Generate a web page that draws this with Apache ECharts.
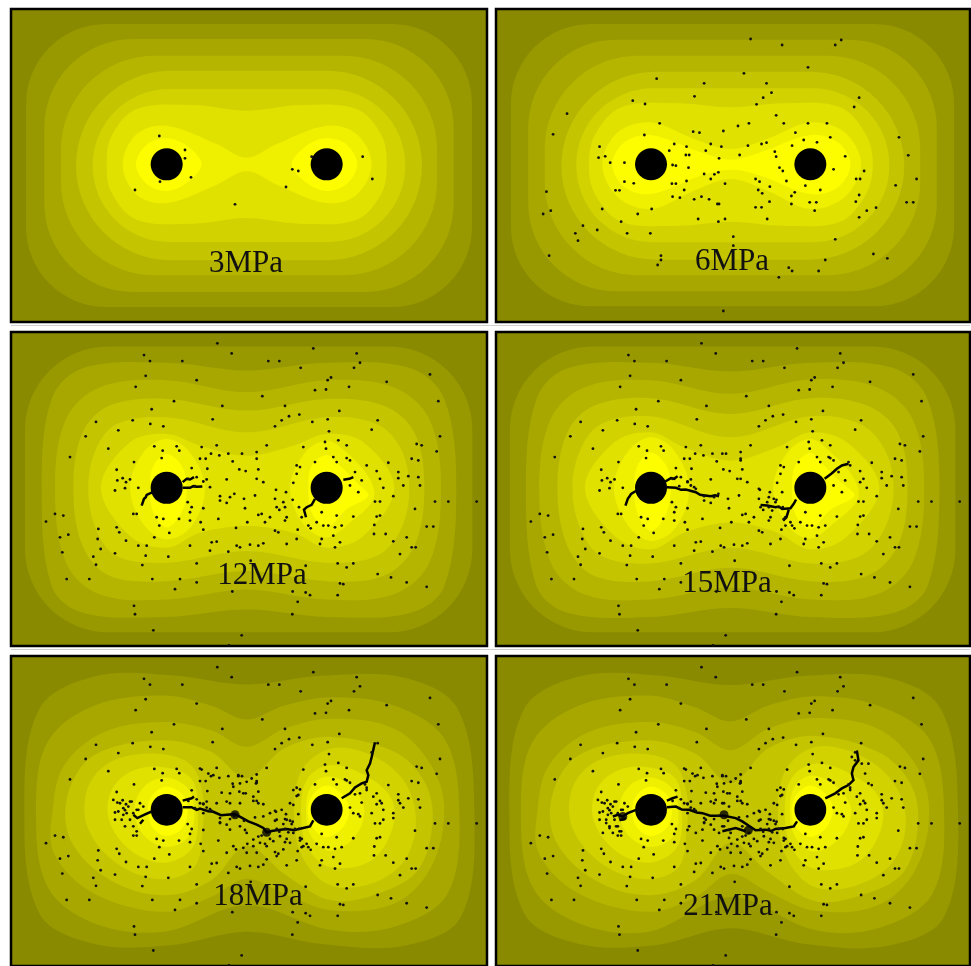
<!DOCTYPE html>
<html>
<head>
<meta charset="utf-8">
<script src="https://cdn.jsdelivr.net/npm/echarts@6/dist/echarts.min.js"></script>
<style>html,body{margin:0;padding:0;background:#fff}#c{width:971px;height:966px}</style>
</head>
<body>
<div id="c"></div>
<script>
// ---------- DATA (model units: specimen 0..1428 wide, 0..939 high, y downwards) ----------
const stageLabels = ['3MPa', '6MPa', '12MPa', '15MPa', '18MPa', '21MPa'];
const holeCenters = [[467, 466], [947, 466]];
const holeRadius = 48;

// Contour levels (outer -> inner). rect: [x0,y0,x1,y1,cornerRadius]; otherwise list of closed polygons.
const contours3 = [
  {rect: [45, 45, 1383, 894, 240]},
  {rect: [100, 90, 1328, 849, 265]},
  {rect: [150, 140, 1278, 799, 280]},
  {rect: [195, 185, 1233, 754, 285]},
  {rect: [245, 240, 1183, 699, 229]},
  [[[707,305],[867,288],[1037,300],[1112,380],[1127,466],[1112,552],[1037,632],[867,644],[707,627],[547,644],[377,632],[302,552],[287,466],[302,380],[377,300],[547,288]]],
  [[[707,446],[797,405],[947,350],[1037,375],[1082,466],[1037,557],[947,582],[797,527],[707,486],[617,527],[467,582],[377,557],[335,466],[377,375],[467,350],[617,405]]],
  [[[467,388],[527,410],[572,466],[527,522],[467,546],[407,525],[375,466],[407,407]],
   [[947,388],[1007,407],[1039,466],[1007,525],[947,546],[887,522],[842,466],[887,410]]]
];
const contours6 = [
  {rect: [45, 45, 1380, 892, 240]},
  {rect: [97, 92, 1328, 847, 265]},
  {rect: [147, 140, 1278, 799, 280]},
  {rect: [197, 188, 1230, 752, 285]},
  {rect: [242, 238, 1185, 700, 230]},
  [[[707,295],[867,283],[1037,295],[1115,378],[1135,466],[1115,555],[1037,638],[867,650],[707,638],[547,650],[377,638],[298,555],[280,466],[298,378],[377,295],[547,283]]],
  [[[707,420],[817,390],[947,340],[1050,370],[1100,466],[1050,565],[947,600],[817,545],[707,510],[597,545],[467,600],[367,565],[320,466],[367,370],[467,340],[597,390]]],
  [[[707,452],[797,430],[947,378],[1030,400],[1068,466],[1030,535],[947,555],[797,500],[707,482],[617,500],[467,555],[387,535],[350,466],[387,400],[467,378],[617,430]]]
];
const contours12 = [
  {rect: [42, 43, 1384, 898, 250]},
  [[[707,115],[947,92],[1197,108],[1300,200],[1336,466],[1300,760],[1197,840],[947,852],[707,830],[467,852],[217,840],[122,760],[92,466],[122,200],[217,108],[467,92]]],
  [[[707,180],[947,144],[1147,165],[1255,260],[1290,466],[1255,690],[1147,785],[947,800],[707,770],[467,800],[267,785],[165,690],[132,466],[165,260],[267,165],[467,144]]],
  [[[707,235],[947,200],[1117,220],[1210,300],[1240,466],[1210,640],[1117,730],[947,745],[707,715],[467,745],[297,730],[215,640],[187,466],[215,300],[297,220],[467,200]]],
  [[[707,300],[947,255],[1097,275],[1170,350],[1195,466],[1170,590],[1097,670],[947,690],[707,655],[467,690],[317,670],[255,590],[232,466],[255,350],[317,275],[467,255]]],
  [[[707,370],[847,340],[947,305],[1057,330],[1150,466],[1057,610],[947,645],[847,600],[707,580],[567,600],[467,645],[357,610],[270,466],[357,330],[467,305],[567,340]]],
  [[[467,320],[537,360],[582,466],[542,580],[467,620],[397,575],[357,466],[397,360]],
   [[947,325],[1007,360],[1077,440],[1087,500],[1017,570],[947,615],[877,575],[837,466],[882,360]]],
  [[[467,365],[512,400],[527,466],[512,540],[467,585],[427,540],[417,466],[427,400]],
   [[947,368],[987,400],[1037,450],[1072,490],[1007,530],[947,585],[902,540],[892,466],[902,400]]]
];
const contours15 = [
  {rect: [42, 43, 1384, 898, 250]},
  [[[707,118],[947,92],[1197,108],[1300,200],[1336,466],[1300,760],[1197,840],[947,852],[707,825],[467,852],[217,840],[122,760],[90,466],[122,200],[217,108],[467,92]]],
  [[[707,185],[947,142],[1147,165],[1255,260],[1290,466],[1255,690],[1147,785],[947,800],[707,765],[467,800],[267,785],[165,690],[130,466],[165,260],[267,165],[467,144]]],
  [[[707,245],[947,198],[1117,220],[1210,300],[1240,466],[1210,640],[1117,730],[947,745],[707,705],[467,745],[297,730],[215,640],[185,466],[215,300],[297,220],[467,198]]],
  [[[707,315],[947,252],[1097,275],[1170,350],[1198,466],[1170,590],[1097,670],[947,692],[707,645],[467,692],[317,670],[255,590],[230,466],[255,350],[317,275],[467,252]]],
  [[[707,385],[847,345],[947,300],[1057,330],[1155,466],[1057,612],[947,650],[847,600],[707,570],[567,600],[467,650],[357,610],[268,466],[357,330],[467,300],[567,345]]],
  [[[467,315],[537,355],[582,466],[542,585],[467,625],[397,578],[355,466],[397,358]],
   [[947,320],[1007,358],[1080,440],[1090,500],[1017,572],[947,618],[877,578],[835,466],[880,358]]],
  [[[467,360],[512,398],[527,466],[512,545],[467,595],[427,545],[417,466],[427,398]],
   [[947,362],[987,398],[1040,450],[1080,490],[1007,532],[947,590],[902,545],[892,466],[902,398]]]
];
const contours18 = [
  [[[250,62],[480,58],[707,86],[930,60],[1180,66],[1340,160],[1390,466],[1350,790],[1180,878],[930,872],[707,835],[480,876],[250,872],[85,780],[40,466],[85,160]]],
  [[[250,150],[460,120],[600,150],[707,192],[820,150],[960,125],[1150,150],[1300,250],[1345,466],[1310,720],[1150,820],[960,830],[707,755],[460,835],[250,810],[110,700],[75,466],[110,260]]],
  [[[460,200],[600,225],[707,275],[820,220],[960,190],[1150,220],[1260,330],[1300,466],[1260,640],[1150,750],[960,770],[820,720],[707,675],[600,730],[460,775],[250,720],[130,600],[125,466],[160,330],[280,230]]],
  [[[450,255],[600,290],[707,370],[820,280],[960,245],[1150,290],[1240,380],[1265,500],[1220,650],[1100,720],[960,740],[820,660],[707,575],[600,680],[460,725],[300,680],[180,560],[170,420],[250,300]]],
  [[[440,296],[540,330],[575,420],[575,520],[550,640],[450,676],[320,630],[230,520],[230,400],[300,320]],
   [[960,280],[1080,300],[1180,380],[1215,500],[1180,620],[1080,690],[960,695],[880,620],[850,500],[870,350]]],
  [[[450,336],[540,370],[560,466],[545,580],[460,626],[360,590],[295,500],[300,410],[360,350]],
   [[960,330],[1060,360],[1140,430],[1145,520],[1080,620],[960,640],[890,580],[870,466],[890,370]]],
  [[[465,368],[530,400],[550,466],[535,545],[470,578],[400,545],[370,466],[400,395]],
   [[950,365],[1020,395],[1060,466],[1030,550],[955,590],[900,545],[885,466],[900,395]]],
  [[[467,395],[515,420],[530,466],[515,520],[467,545],[425,520],[410,466],[425,420]],
   [[947,392],[995,420],[1015,466],[995,520],[947,548],[905,520],[890,466],[905,420]]]
];
const contours21 = [
  [[[250,62],[480,58],[707,88],[930,60],[1180,66],[1340,160],[1392,466],[1350,790],[1180,878],[930,872],[707,825],[480,876],[250,872],[85,780],[40,466],[85,160]]],
  [[[250,150],[460,120],[600,155],[707,198],[820,150],[960,122],[1150,150],[1305,250],[1350,466],[1315,720],[1150,825],[960,830],[707,730],[460,835],[250,810],[110,700],[75,466],[110,260]]],
  [[[460,200],[600,230],[707,285],[820,220],[960,188],[1150,220],[1265,330],[1305,466],[1265,645],[1150,755],[960,772],[820,715],[707,660],[600,730],[460,775],[250,720],[130,600],[125,466],[160,330],[280,230]]],
  [[[450,255],[600,295],[707,385],[820,280],[960,242],[1150,290],[1245,380],[1272,500],[1228,655],[1100,725],[960,742],[820,655],[707,565],[600,680],[460,725],[300,680],[180,560],[170,420],[250,300]]],
  [[[440,296],[540,330],[575,420],[575,520],[550,640],[450,676],[320,630],[230,520],[230,400],[300,320]],
   [[960,276],[1090,298],[1195,380],[1235,500],[1195,625],[1085,695],[960,700],[880,620],[850,500],[870,350]]],
  [[[450,336],[540,370],[560,466],[545,580],[460,626],[360,590],[295,500],[300,410],[360,350]],
   [[960,326],[1070,358],[1155,430],[1160,525],[1090,625],[960,645],[890,580],[870,466],[890,370]]],
  [[[465,368],[530,400],[550,466],[535,545],[470,578],[400,545],[370,466],[400,395]],
   [[950,362],[1025,395],[1070,466],[1035,552],[955,592],[900,545],[885,466],[900,395]]],
  [[[467,395],[515,420],[530,466],[515,520],[467,545],[425,520],[410,466],[425,420]],
   [[947,392],[995,420],[1015,466],[995,520],[947,548],[905,520],[890,466],[905,420]]]
];

// Micro-crack positions
const microcracks3 = [[445,381],[522,423],[522,448],[447,518],[540,505],[372,543],[672,586],[844,481],[862,486],[825,534],[1055,443],[1084,510],[902,443]];
const microcracks6 = [[767,90],[862,108],[1022,108],[1040,93],[940,175],[747,193],[484,209],[627,223],[815,223],[830,251],[598,262],[805,266],[785,286],[1094,266],[1079,294],[412,275],[449,285],[214,314],[844,319],[493,343],[762,343],[729,351],[867,343],[940,343],[997,343],[172,376],[447,378],[594,368],[613,371],[685,366],[902,371],[1214,385],[312,413],[537,405],[574,413],[647,405],[679,413],[759,410],[800,405],[815,401],[892,410],[927,393],[967,400],[1007,385],[309,446],[329,442],[344,461],[387,461],[522,425],[572,438],[582,438],[632,425],[672,448],[734,438],[840,428],[844,443],[1052,442],[1242,439],[532,468],[542,470],[580,476],[627,495],[658,496],[670,490],[647,510],[854,476],[864,486],[1017,481],[1109,486],[1085,510],[1097,510],[1267,510],[387,518],[415,523],[530,524],[542,524],[574,516],[690,524],[782,510],[794,518],[825,533],[875,516],[932,530],[977,543],[1204,529],[152,548],[360,544],[372,544],[567,543],[790,543],[802,553],[532,563],[554,566],[597,571],[619,563],[642,571],[667,585],[672,585],[824,578],[890,561],[900,550],[945,580],[965,580],[1094,558],[1084,578],[1237,580],[1257,580],[142,615],[165,605],[320,600],[427,615],[469,600],[782,595],[800,595],[890,585],[960,605],[1117,605],[1145,596],[1094,625],[377,638],[609,630],[670,638],[690,630],[817,630],[262,650],[239,673],[247,695],[305,663],[395,673],[465,673],[715,683],[715,710],[1022,691],[160,740],[497,740],[487,768],[497,753],[1137,735],[1179,748],[992,753],[882,776],[892,786],[972,786],[852,805],[685,906]];
const microcracks12 = [[619,34],[662,64],[907,49],[1037,64],[399,69],[417,87],[514,87],[772,87],[805,87],[1047,92],[1029,107],[869,107],[1257,127],[404,131],[557,144],[960,136],[950,144],[1127,149],[374,164],[912,174],[945,172],[1014,164],[754,192],[489,207],[634,221],[822,221],[1282,207],[422,231],[865,247],[834,252],[985,236],[605,261],[1100,264],[255,269],[365,264],[418,275],[457,282],[812,264],[792,282],[904,269],[950,261],[322,294],[954,297],[1082,292],[224,312],[1287,312],[1217,335],[1232,339],[497,342],[430,342],[572,344],[617,339],[767,339],[877,344],[942,329],[982,324],[1007,339],[292,349],[455,355],[505,355],[600,364],[625,369],[652,364],[693,364],[737,359],[945,349],[1277,357],[177,374],[369,389],[452,377],[567,379],[584,379],[665,387],[737,379],[967,374],[1007,377],[1017,384],[1132,391],[1067,399],[1202,379],[1222,384],[317,412],[542,407],[589,409],[685,411],[704,416],[742,411],[857,399],[867,404],[912,389],[977,389],[1097,416],[1162,419],[1192,431],[1222,434],[335,437],[357,441],[319,444],[345,449],[532,439],[557,434],[587,441],[577,447],[647,441],[737,439],[857,424],[1032,419],[1052,444],[1107,439],[1162,437],[312,474],[342,467],[382,466],[552,461],[597,464],[627,491],[657,494],[670,484],[757,449],[795,472],[825,479],[847,451],[1017,459],[1042,479],[1117,466],[1177,459],[1227,459],[1147,491],[1272,507],[1312,507],[1397,507],[530,509],[627,504],[647,511],[699,499],[732,489],[792,499],[817,509],[845,502],[967,489],[1092,507],[1107,507],[377,544],[367,544],[542,524],[537,539],[577,527],[702,527],[752,544],[797,524],[805,532],[822,524],[864,524],[1212,529],[132,544],[157,549],[437,554],[457,559],[504,559],[537,564],[622,559],[742,547],[777,554],[827,554],[872,554],[932,539],[977,549],[1027,552],[1097,552],[1107,549],[105,567],[445,579],[569,569],[709,569],[762,569],[822,564],[892,579],[917,569],[952,579],[972,584],[1090,577],[1247,582],[1267,582],[262,589],[317,584],[325,599],[147,614],[172,606],[430,614],[475,601],[577,591],[675,586],[792,594],[802,599],[860,591],[899,587],[937,579],[967,609],[992,579],[1089,604],[1124,604],[1187,614],[260,619],[345,624],[407,639],[382,639],[537,639],[602,629],[617,627],[677,639],[717,636],[742,639],[757,632],[827,634],[857,619],[932,619],[987,629],[927,634],[1147,626],[1214,644],[154,659],[247,672],[269,649],[312,662],[404,669],[472,672],[597,654],[652,657],[687,644],[972,644],[1167,664],[1202,644],[1027,692],[1007,704],[980,692],[255,696],[394,697],[557,692],[719,684],[884,699],[167,739],[235,739],[424,739],[507,739],[492,769],[557,749],[664,776],[845,776],[884,779],[897,787],[987,752],[997,754],[1100,724],[1140,734],[1187,749],[1247,762],[860,807],[980,787],[369,819],[372,844],[844,844],[427,892],[692,907],[654,937]];
const microcracksAdded15 = [[577,449],[587,459],[602,469],[682,364],[737,384],[727,439],[792,469],[822,494],[837,499],[862,479],[852,524],[832,534],[867,559],[872,579],[887,569],[842,509],[1002,374],[1062,389],[1097,449]];
const microcracksAdded18 = [[567,341],[592,356],[607,361],[632,414],[657,416],[667,396],[682,361],[687,386],[697,416],[707,381],[722,371],[735,386],[727,426],[742,446],[657,446],[687,446],[617,446],[567,446],[577,476],[627,506],[657,526],[687,516],[707,536],[727,556],[747,566],[767,576],[787,561],[807,546],[727,576],[697,581],[667,576],[647,596],[707,596],[737,596],[767,616],[797,606],[817,586],[837,566],[847,536],[867,551],[877,576],[827,496],[797,496],[777,476],[757,486],[812,466],[847,406],[862,421],[837,446],[327,446],[337,461],[347,476],[357,496],[367,516],[377,531],[342,516],[332,496],[352,456],[362,441],[387,446],[397,456],[377,466],[367,476],[337,481],[322,471],[312,496],[307,436],[1047,416],[1067,406],[1087,426],[1112,446],[1027,476],[1047,486],[1082,476],[1117,496],[1147,476],[1167,446]];
const microcracksAdded21 = [[662,436],[682,446],[702,456],[632,496],[682,516],[672,536],[702,551],[742,516],[762,536],[622,526],[602,536],[582,516],[362,516],[342,521],[332,506],[322,536],[352,536],[372,531],[1082,316],[1102,326],[1112,356],[1122,386],[1072,306],[1122,326]];

// Macro cracks (polylines) and coalesced damage clusters
const cracks3 = [];
const cracks6 = [];
const cracks12 = [
  [[515,449],[527,439],[537,441],[549,434]],
  [[515,466],[537,466],[547,461],[557,463],[574,462]],
  [[425,479],[407,487],[404,495],[399,499],[392,519]],
  [[912,499],[902,517],[887,524],[879,531],[885,554]],
  [[997,442],[1015,439],[1027,434]]
];
const cracks15 = [
  [[510,447],[527,437],[537,439],[547,431]],
  [[514,464],[542,466],[557,472],[572,471],[602,479],[615,487],[630,489],[647,491],[660,488],[672,491]],
  [[424,474],[407,484],[402,492],[397,499],[390,519]],
  [[990,439],[1010,424],[1017,418],[1027,409],[1042,399],[1062,394]],
  [[904,501],[897,514],[887,527],[862,529],[852,522],[842,524],[817,519],[797,517]],
  [[882,531],[875,554],[865,564]]
];
const cracks18 = [
  [[515,458],[542,458],[557,466],[567,462],[592,470],[607,472],[630,482],[647,481],[672,479],[689,488],[712,501],[737,511],[757,521],[767,534],[782,530],[797,528],[827,524],[850,528],[867,523],[897,516],[907,498]],
  [[515,438],[542,431],[549,426]],
  [[422,471],[399,481],[379,491],[367,481]],
  [[397,496],[387,508]],
  [[992,431],[1017,416],[1032,398],[1052,386],[1067,381],[1072,361],[1067,346],[1077,326],[1082,306],[1092,261]]
];
const cracks21 = [
  [[515,458],[542,456],[560,465],[582,466],[605,474],[622,476],[645,484],[662,484],[687,484],[722,491],[742,501],[772,521],[782,528],[812,526],[830,530],[842,524],[872,521],[897,516],[907,501]],
  [[422,466],[397,476],[382,486],[367,481],[352,486]],
  [[392,491],[372,498]],
  [[992,431],[1022,416],[1042,401],[1062,391],[1077,376],[1072,356],[1077,336],[1092,316],[1087,286]],
  [[682,531],[722,521],[752,531]],
  [[515,438],[532,431],[547,426]]
];
const clusters18 = [[672,481],[767,534]];
const clusters21 = [[687,481],[760,528],[382,486]];

// ---------- assembly ----------
const microcracks15 = microcracks12.concat(microcracksAdded15);
const microcracks18 = microcracks15.concat(microcracksAdded18);
const microcracks21 = microcracks18.concat(microcracksAdded21);
const stages = [
  {contours: contours3, dots: microcracks3, cracks: cracks3, clusters: []},
  {contours: contours6, dots: microcracks6, cracks: cracks6, clusters: []},
  {contours: contours12, dots: microcracks12, cracks: cracks12, clusters: []},
  {contours: contours15, dots: microcracks15, cracks: cracks15, clusters: []},
  {contours: contours18, dots: microcracks18, cracks: cracks18, clusters: clusters18},
  {contours: contours21, dots: microcracks21, cracks: cracks21, clusters: clusters21}
];

// ---------- style / layout ----------
const levelColors = ['#8a8a00','#989800','#a7a700','#b5b500','#c4c400','#d2d200','#e1e100','#efef00','#fdfd00'];
const panelRects = [
  {left: 11, top: 9, width: 476, height: 313},
  {left: 496, top: 9, width: 474, height: 313},
  {left: 11, top: 332, width: 476, height: 314},
  {left: 496, top: 332, width: 474, height: 314},
  {left: 11, top: 656, width: 476, height: 313},
  {left: 496, top: 656, width: 474, height: 313}
];
const labelCenters = [[246,264],[732,262],[262,576],[727,584],[258,897],[728,907]];

const grid = [], xAxis = [], yAxis = [], series = [], title = [];
stages.forEach((st, i) => {
  grid.push(Object.assign({show: true, backgroundColor: levelColors[0], borderColor: '#000', borderWidth: 2.5}, panelRects[i]));
  xAxis.push({gridIndex: i, type: 'value', min: 0, max: 1428, show: false});
  yAxis.push({gridIndex: i, type: 'value', min: 0, max: 939, inverse: true, show: false});
  const levels = st.contours;
  series.push({
    type: 'custom', xAxisIndex: i, yAxisIndex: i, silent: true, clip: true, z: 1,
    data: levels.map((_, k) => [k]),
    renderItem: (params, api) => {
      const k = api.value(0);
      const c = levels[k];
      const fill = levelColors[k + 1];
      if (c.rect) {
        const p0 = api.coord([c.rect[0], c.rect[1]]);
        const p1 = api.coord([c.rect[2], c.rect[3]]);
        const rs = api.size([c.rect[4], c.rect[4]]);
        return {type: 'rect', shape: {x: Math.min(p0[0], p1[0]), y: Math.min(p0[1], p1[1]),
          width: Math.abs(p1[0] - p0[0]), height: Math.abs(p1[1] - p0[1]), r: Math.min(rs[0], rs[1])},
          style: {fill: fill}};
      }
      return {type: 'group', children: c.map(poly => ({
        type: 'polygon', shape: {points: poly.map(p => api.coord(p)), smooth: 0.35},
        style: {fill: fill}}))};
    }
  });
  if (st.cracks.length) {
    series.push({
      type: 'lines', coordinateSystem: 'cartesian2d', xAxisIndex: i, yAxisIndex: i, polyline: true, silent: true, z: 3,
      data: st.cracks.map(c => ({coords: c})),
      lineStyle: {color: '#000', width: 2.5, opacity: 1}
    });
  }
  series.push({
    type: 'scatter', xAxisIndex: i, yAxisIndex: i, silent: true, z: 4,
    data: st.dots, symbol: 'circle', symbolSize: 2.8, itemStyle: {color: '#111', opacity: 1}
  });
  if (st.clusters.length) {
    series.push({
      type: 'scatter', xAxisIndex: i, yAxisIndex: i, silent: true, z: 4,
      data: st.clusters, symbol: 'circle', symbolSize: 9, itemStyle: {color: '#000'}
    });
  }
  series.push({
    type: 'custom', xAxisIndex: i, yAxisIndex: i, silent: true, z: 5,
    data: holeCenters,
    renderItem: (params, api) => {
      const c = api.coord([api.value(0), api.value(1)]);
      const r = api.size([holeRadius, holeRadius]);
      return {type: 'circle', shape: {cx: c[0], cy: c[1], r: (r[0] + r[1]) / 2}, style: {fill: '#000'}};
    }
  });
  title.push({
    text: stageLabels[i], left: labelCenters[i][0], top: labelCenters[i][1],
    textAlign: 'center', textVerticalAlign: 'middle', padding: 0,
    textStyle: {fontFamily: '"Liberation Serif", "Times New Roman", serif', fontSize: 31, fontWeight: 'normal', color: '#111'}
  });
});

// faint separator rules between the rows of panels
const graphic = [
  {type: 'line', shape: {x1: 11, y1: 325.5, x2: 970, y2: 325.5}, style: {stroke: '#cfcfcf', lineWidth: 1}, silent: true},
  {type: 'line', shape: {x1: 11, y1: 649.5, x2: 970, y2: 649.5}, style: {stroke: '#cfcfcf', lineWidth: 1}, silent: true}
];

const chart = echarts.init(document.getElementById('c'), null, {renderer: 'canvas'});
chart.setOption({animation: false, backgroundColor: '#fff', title, grid, xAxis, yAxis, series, graphic});
</script>
</body>
</html>
